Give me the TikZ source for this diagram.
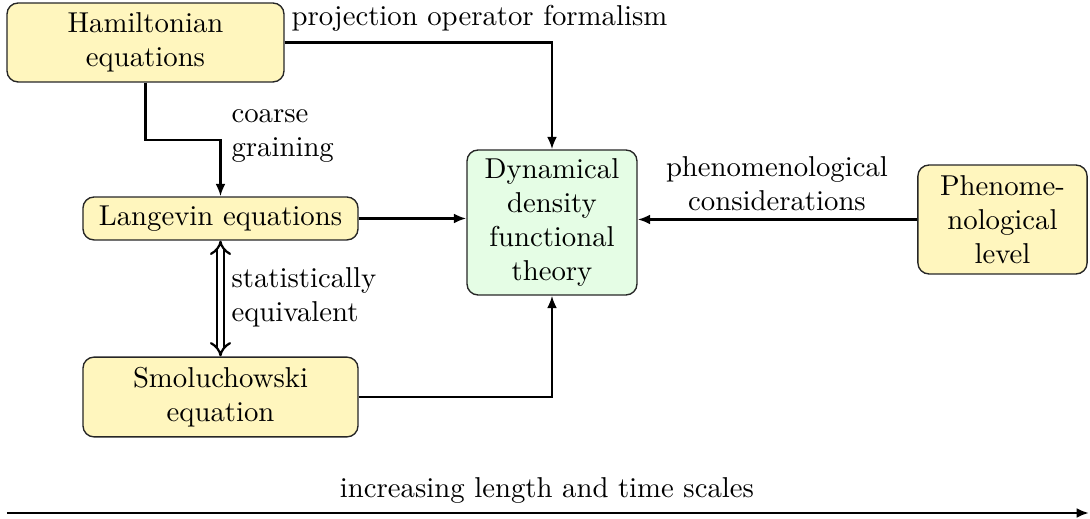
\documentclass[tikz,border=0pt]{standalone}
\usetikzlibrary{arrows.meta}
\definecolor{boxyellow}{RGB}{255,246,190}
\definecolor{boxgreen}{RGB}{229,253,229}
\begin{document}
\begin{tikzpicture}[x=0.3636pt,y=-0.3636pt,
  font=\fontsize{10.45}{12.3}\selectfont,
  box/.style={draw=black!85, line width=0.5pt, rounded corners=4pt, align=center, inner sep=0pt},
  ybox/.style={box, fill=boxyellow},
  gbox/.style={box, fill=boxgreen},
  conn/.style={line width=0.9pt, -{Latex[length=4.5pt,width=3.6pt]}},
  lbl/.style={inner sep=0pt},
]
\useasboundingbox (0,0) rectangle (1090,519);
\node[ybox, minimum width=100.7pt, minimum height=28.7pt] (ham) at (145.5,42.5) {Hamiltonian\\equations};
\node[ybox, minimum width=100pt, minimum height=15.6pt] (lan) at (220.5,218.5) {Langevin equations};
\node[ybox, minimum width=100pt, minimum height=29pt] (smo) at (220.5,397) {Smoluchowski\\equation};
\node[gbox, minimum width=61.8pt, minimum height=52.7pt] (ddft) at (552,222.5) {Dynamical\\density\\functional\\theory};
\node[ybox, minimum width=61.5pt, minimum height=39.6pt] (phe) at (1002.5,219.5) {Phenome-\\nological\\level};

\coordinate (cgA) at (145.5,140);
\coordinate (cgB) at (220.5,140);
\draw[conn] (ham.south -| cgA) -- (cgA) -- (cgB) -- (lan.north);
\draw[conn] (ham.east) -| (ddft.north);
\draw[conn] (lan.east) -- (lan.east -| ddft.west);
\draw[conn] (smo.east) -| (ddft.south);
\draw[conn] (phe.west) -- (phe.west -| ddft.east);
\draw[line width=0.8pt, double distance=1.8pt, {Implies}-{Implies}] (lan.south) -- (smo.north);

\node[lbl, anchor=west] (lproj) at (291,18) {projection operator formalism};
\node[lbl, anchor=west, align=left] (lcg) at (231,136) {coarse\\graining};
\node[lbl, anchor=west, align=left] (lse) at (231,297) {statistically\\equivalent};
\node[lbl, align=center] (lphe) at (777,184) {phenomenological\\considerations};
\node[lbl] (lscale) at (547,490) {increasing length and time scales};

\coordinate (sL) at (7,513);
\coordinate (sR) at (1089,513);
\draw[conn] (sL) -- (sR);
\end{tikzpicture}
\end{document}
